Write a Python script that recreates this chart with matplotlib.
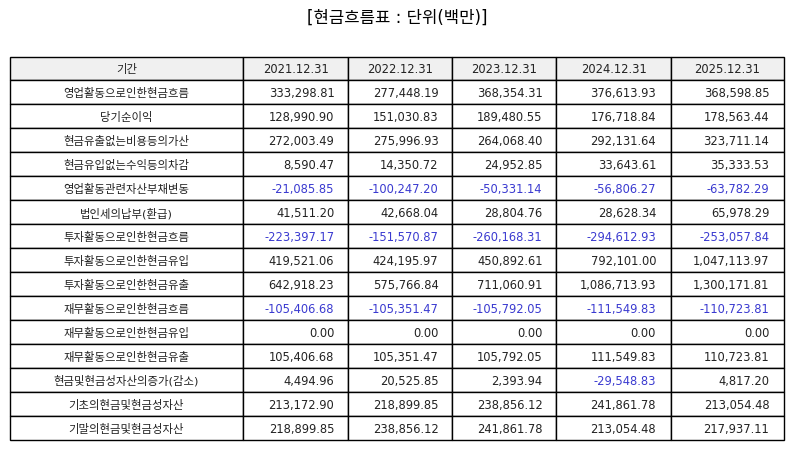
import matplotlib
matplotlib.use("Agg")
import matplotlib.pyplot as plt

# 글꼴: 숫자는 DejaVu, 한글은 Noto CJK 로 대체
plt.rcParams['font.family'] = ['DejaVu Sans', 'Noto Sans CJK KR']

title = "[현금흐름표 : 단위(백만)]"
periods = ["2021.12.31", "2022.12.31", "2023.12.31", "2024.12.31", "2025.12.31"]
items = [
    "영업활동으로인한현금흐름",
    "당기순이익",
    "현금유출없는비용등의가산",
    "현금유입없는수익등의차감",
    "영업활동관련자산부채변동",
    "법인세의납부(환급)",
    "투자활동으로인한현금흐름",
    "투자활동으로인한현금유입",
    "투자활동으로인한현금유출",
    "재무활동으로인한현금흐름",
    "재무활동으로인한현금유입",
    "재무활동으로인한현금유출",
    "현금및현금성자산의증가(감소)",
    "기초의현금및현금성자산",
    "기말의현금및현금성자산",
]
y2021 = [333298.81, 128990.90, 272003.49, 8590.47, -21085.85, 41511.20, -223397.17,
         419521.06, 642918.23, -105406.68, 0.00, 105406.68, 4494.96, 213172.90, 218899.85]
y2022 = [277448.19, 151030.83, 275996.93, 14350.72, -100247.20, 42668.04, -151570.87,
         424195.97, 575766.84, -105351.47, 0.00, 105351.47, 20525.85, 218899.85, 238856.12]
y2023 = [368354.31, 189480.55, 264068.40, 24952.85, -50331.14, 28804.76, -260168.31,
         450892.61, 711060.91, -105792.05, 0.00, 105792.05, 2393.94, 238856.12, 241861.78]
y2024 = [376613.93, 176718.84, 292131.64, 33643.61, -56806.27, 28628.34, -294612.93,
         792101.00, 1086713.93, -111549.83, 0.00, 111549.83, -29548.83, 241861.78, 213054.48]
y2025 = [368598.85, 178563.44, 323711.14, 35333.53, -63782.29, 65978.29, -253057.84,
         1047113.97, 1300171.81, -110723.81, 0.00, 110723.81, 4817.20, 213054.48, 217937.11]

W, H = 794, 452
fig = plt.figure(figsize=(W / 100, H / 100), dpi=100)
ax = fig.add_axes([0, 0, 1, 1])
ax.axis("off")

fig.text(0.5, 1 - 18 / H, title, ha="center", va="center", fontsize=12)

columns = [y2021, y2022, y2023, y2024, y2025]
cell_text = []
for i, name in enumerate(items):
    cell_text.append([name] + [f"{col[i]:,.2f}" for col in columns])

col_px = [233, 105, 104, 104, 115, 113]
total = sum(col_px)
col_widths = [c / total for c in col_px]

left, right, top, bottom = 10, 784, 57.5, 441
tbl = ax.table(
    cellText=cell_text,
    colLabels=["기간"] + periods,
    colWidths=col_widths,
    bbox=[left / W, 1 - bottom / H, (right - left) / W, (bottom - top) / H],
    cellLoc="right",
)
tbl.auto_set_font_size(False)

for (r, c), cell in tbl.get_celld().items():
    cell.set_edgecolor("black")
    cell.set_linewidth(1.0)
    cell.PAD = 0.13
    txt = cell.get_text()
    txt.set_color("#222222")
    if c == 0:
        txt.set_ha("center")
        cell._loc = "center"
        txt.set_fontsize(8.2)
    else:
        txt.set_fontsize(8.3)
    if r == 0:
        cell.set_facecolor("#f0f0f0")
    else:
        cell.set_facecolor("white")
        if c > 0 and columns[c - 1][r - 1] < 0:
            txt.set_color("#3a3ad0")

fig.savefig("out.png", dpi=100)
